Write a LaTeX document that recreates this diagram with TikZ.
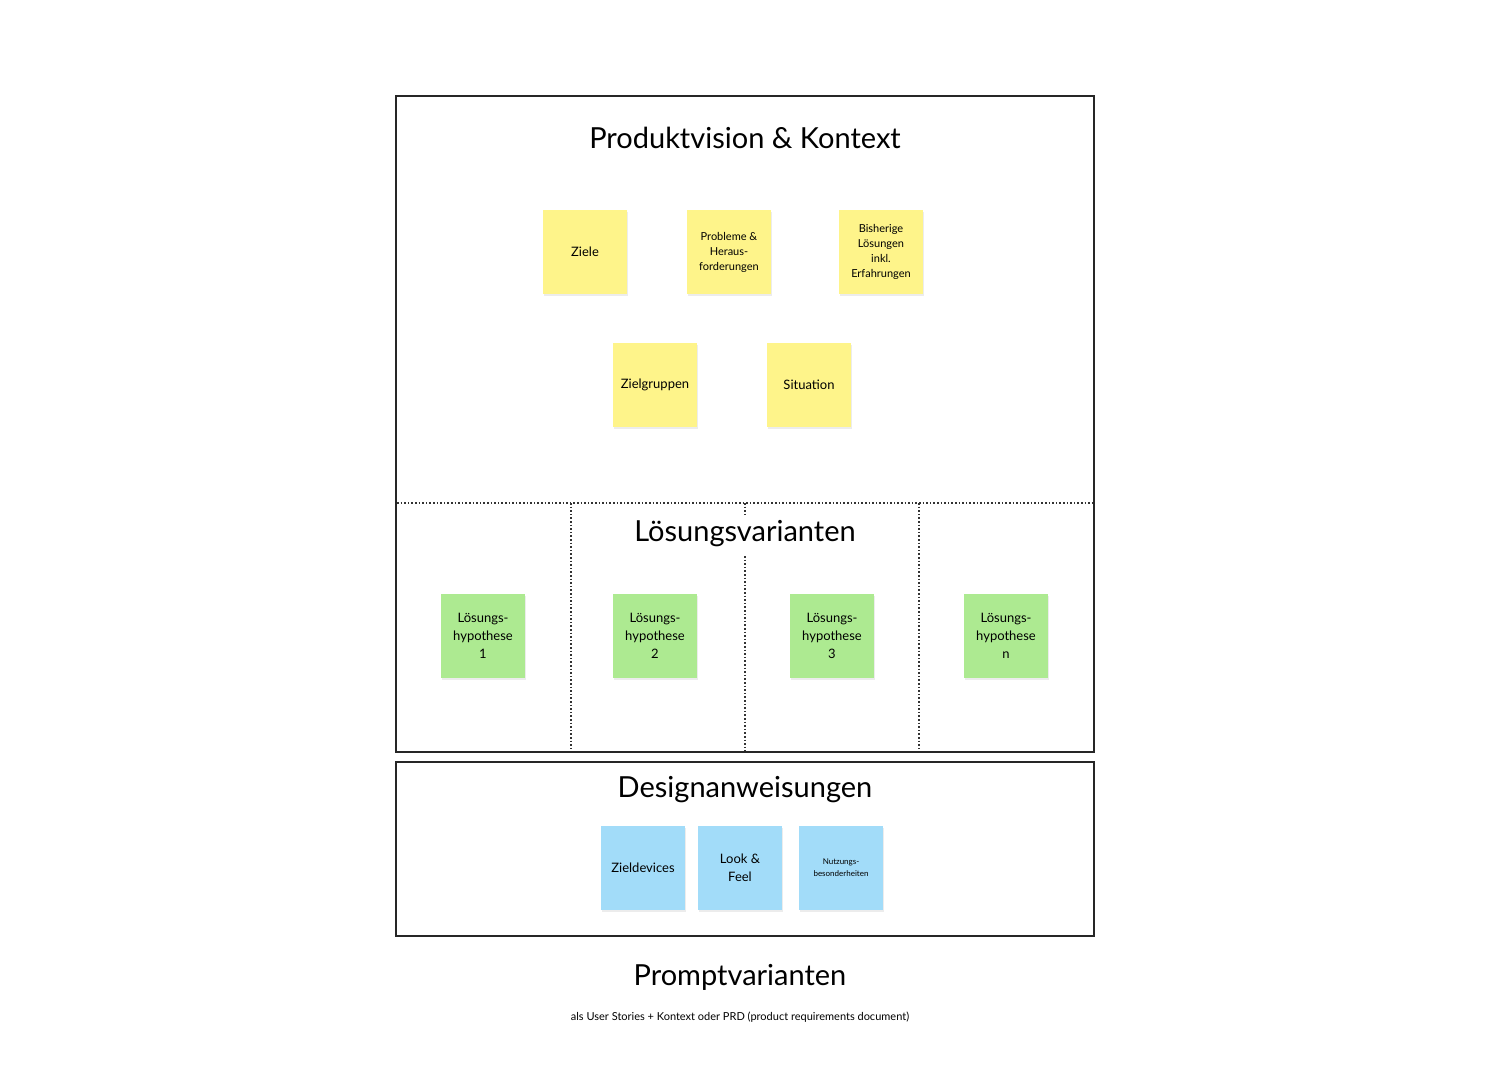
\documentclass[tikz,border=0pt]{standalone}
\usepackage{fontspec}
\setmainfont{Lato}
\usetikzlibrary{shadows}
\definecolor{ystick}{HTML}{FEF48A}
\definecolor{gstick}{HTML}{ADEA91}
\definecolor{bstick}{HTML}{A2DCF9}
\tikzset{
 sticky/.style={minimum width=84pt,minimum height=84pt,inner sep=2pt,align=center,
   drop shadow={shadow xshift=1pt,shadow yshift=-2pt,opacity=0.15},font=\fontsize{13}{18}\selectfont},
 ys/.style={sticky,fill=ystick},
 gs/.style={sticky,fill=gstick},
 bs/.style={sticky,fill=bstick},
 frame/.style={draw=black!85,line width=1.8pt},
 sep/.style={draw=black!80,line width=1.6pt,dotted},
 title/.style={font=\fontsize{29}{34}\selectfont}
}
\begin{document}
\begin{tikzpicture}[x=1pt,y=-1pt]
\useasboundingbox (0,0) rectangle (1494,1082);
\draw[frame] (396,96) rectangle (1094,752);
\draw[sep] (397,503) -- (1093,503);
\draw[sep] (571,503) -- (571,751);
\draw[sep] (919,503) -- (919,751);
\draw[sep] (745,503) -- (745,514);
\draw[sep] (745,556) -- (745,751);
\draw[frame] (396,762) rectangle (1094,936);
\node[title] (t1) at (745,138) {Produktvision \& Kontext};
\node[title] (t2) at (745,534) {Lösungsvarianten};
\node[title] (t3) at (745,790) {Designanweisungen};
\node[title] (t4) at (740,977) {Promptvarianten};
\node[font=\fontsize{11}{13}\selectfont] (sub) at (740,1017) {als User Stories + Kontext oder PRD (product requirements document)};
\node[ys] (y1) at (585,252) {Ziele};
\node[ys,font=\fontsize{11}{15}\selectfont] (y2) at (729,252) {Probleme \&\\Heraus-\\forderungen};
\node[ys,font=\fontsize{11}{15}\selectfont] (y3) at (881,252) {Bisherige\\Lösungen\\inkl.\\Erfahrungen};
\node[ys] (y4) at (655,385) {Zielgruppen};
\node[ys] (y5) at (809,385) {Situation};
\node[gs] (g1) at (483,636) {Lösungs-\\hypothese\\1};
\node[gs] (g2) at (655,636) {Lösungs-\\hypothese\\2};
\node[gs] (g3) at (832,636) {Lösungs-\\hypothese\\3};
\node[gs] (g4) at (1006,636) {Lösungs-\\hypothese\\n};
\node[bs] (b1) at (643,868) {Zieldevices};
\node[bs] (b2) at (740,868) {Look \&\\Feel};
\node[bs,font=\fontsize{8}{12}\selectfont] (b3) at (841,868) {Nutzungs-\\besonderheiten};
\end{tikzpicture}
\end{document}
